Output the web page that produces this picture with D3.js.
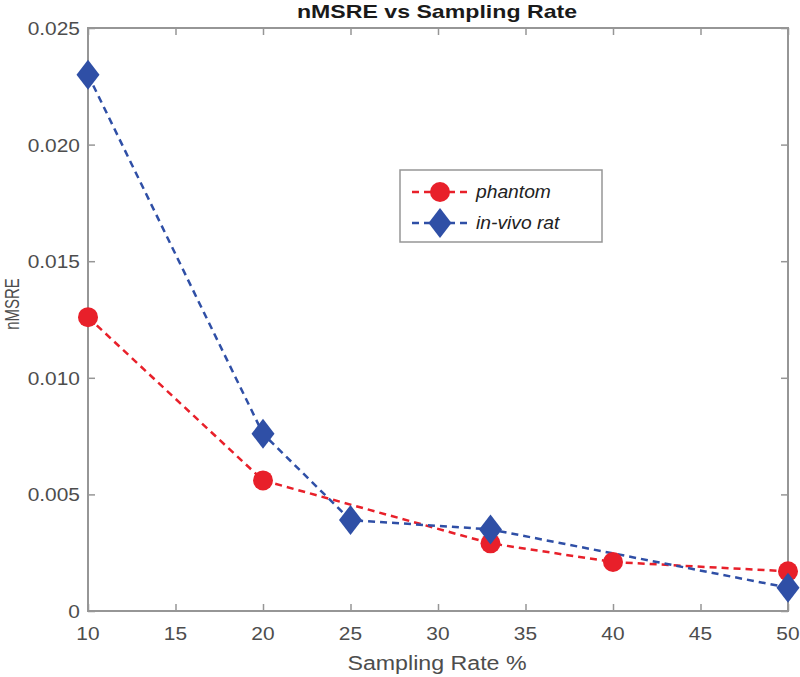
<!DOCTYPE html>
<html><head><meta charset="utf-8">
<script src="https://cdn.jsdelivr.net/npm/d3@7"></script>
<style>body{margin:0;background:#fff;} svg{display:block;font-family:"Liberation Sans",Arial,sans-serif;}</style>
</head><body>
<svg id="chart" width="800" height="677"></svg>
<script>
const phantomX = [10, 20, 33, 40, 50];
const phantomY = [0.0126, 0.0056, 0.0029, 0.0021, 0.0017];
const ratX = [10, 20, 25, 33, 50];
const ratY = [0.0230, 0.0076, 0.0039, 0.0035, 0.0010];
const xTicks = [10, 15, 20, 25, 30, 35, 40, 45, 50];
const yTicks = [0, 0.005, 0.010, 0.015, 0.020, 0.025];
const yTickLabels = ["0", "0.005", "0.010", "0.015", "0.020", "0.025"];
const seriesNames = ["phantom", "in-vivo rat"];

const svg = d3.select("#chart");
const L = 88, R = 788, T = 28, B = 611;
const x = d3.scaleLinear().domain([10, 50]).range([L, R]);
const y = d3.scaleLinear().domain([0, 0.025]).range([B, T]);
const axisCol = "#969696", textCol = "#4d4d4d";
const red = "#e8202a", blue = "#2f4fa6";

// stretched text helper
function stext(g, px, py, str, size, sx, anchor, opts = {}) {
  const t = g.append("text").attr("transform", `translate(${px},${py}) scale(${sx},1)`)
    .attr("text-anchor", anchor).attr("font-size", size).attr("fill", opts.fill || textCol).text(str);
  if (opts.weight) t.attr("font-weight", opts.weight);
  if (opts.style) t.attr("font-style", opts.style);
  return t;
}

// box
svg.append("rect").attr("x", L).attr("y", T).attr("width", R - L).attr("height", B - T)
  .attr("fill", "none").attr("stroke", axisCol).attr("stroke-width", 2);

// axes (tick marks, inward)
const xb = svg.append("g").attr("transform", `translate(0,${B})`)
  .call(d3.axisBottom(x).tickValues(xTicks).tickSize(-7).tickFormat(""));
const xt = svg.append("g").attr("transform", `translate(0,${T})`)
  .call(d3.axisTop(x).tickValues(xTicks).tickSize(-7).tickFormat(""));
const yl = svg.append("g").attr("transform", `translate(${L},0)`)
  .call(d3.axisLeft(y).tickValues(yTicks).tickSize(-7).tickFormat(""));
const yr = svg.append("g").attr("transform", `translate(${R},0)`)
  .call(d3.axisRight(y).tickValues(yTicks).tickSize(-7).tickFormat(""));
[xb, xt, yl, yr].forEach(g => {
  g.select(".domain").remove();
  g.selectAll(".tick line").attr("stroke", axisCol).attr("stroke-width", 1.5);
});

// tick labels
xTicks.forEach(t => stext(svg, x(t), 640, d3.format("d")(t), 19, 1.1, "middle"));
yTicks.forEach((t, i) => stext(svg, 80, y(t) + 7, yTickLabels[i], 19, 1.1, "end"));

// titles
stext(svg, 437, 18, "nMSRE vs Sampling Rate", 18.5, 1.25, "middle", {weight: "bold", fill: "#1a1a1a"});
stext(svg, 437, 670, "Sampling Rate %", 20, 1.16, "middle");
svg.append("text").attr("transform", "translate(19,304) rotate(-90) scale(1,1.4)").attr("text-anchor", "middle")
  .attr("font-size", 15).attr("fill", textCol).text("nMSRE");

// lines
const line = d3.line().x(d => x(d[0])).y(d => y(d[1]));
const pd = phantomX.map((v, i) => [v, phantomY[i]]);
const rd = ratX.map((v, i) => [v, ratY[i]]);
svg.append("path").datum(pd).attr("d", line).attr("fill", "none").attr("stroke", red)
  .attr("stroke-width", 2.5).attr("stroke-dasharray", "7,5");
svg.append("path").datum(rd).attr("d", line).attr("fill", "none").attr("stroke", blue)
  .attr("stroke-width", 2.5).attr("stroke-dasharray", "7,5");

const diamond = (cx, cy) => `M${cx},${cy - 15}L${cx + 11.5},${cy}L${cx},${cy + 15}L${cx - 11.5},${cy}Z`;
svg.selectAll(".pc").data(pd).enter().append("circle")
  .attr("cx", d => x(d[0])).attr("cy", d => y(d[1])).attr("r", 10).attr("fill", red);
svg.selectAll(".rdm").data(rd).enter().append("path")
  .attr("d", d => diamond(x(d[0]), y(d[1]))).attr("fill", blue);

// legend
const lg = svg.append("g");
lg.append("rect").attr("x", 400).attr("y", 170).attr("width", 202).attr("height", 72)
  .attr("fill", "#fff").attr("stroke", axisCol).attr("stroke-width", 1.5);
const rows = [{c: red, t: seriesNames[0], y: 192, m: "c"}, {c: blue, t: seriesNames[1], y: 223, m: "d"}];
rows.forEach(r => {
  lg.append("line").attr("x1", 412).attr("x2", 468).attr("y1", r.y).attr("y2", r.y)
    .attr("stroke", r.c).attr("stroke-width", 2.5).attr("stroke-dasharray", "7,5");
  if (r.m === "c") lg.append("circle").attr("cx", 440).attr("cy", r.y).attr("r", 10).attr("fill", r.c);
  else lg.append("path").attr("d", diamond(440, r.y)).attr("fill", r.c);
  stext(lg, 476, r.y + 6, r.t, 18, 1.07, "start", {style: "italic", fill: "#222"});
});
</script>
</body></html>
